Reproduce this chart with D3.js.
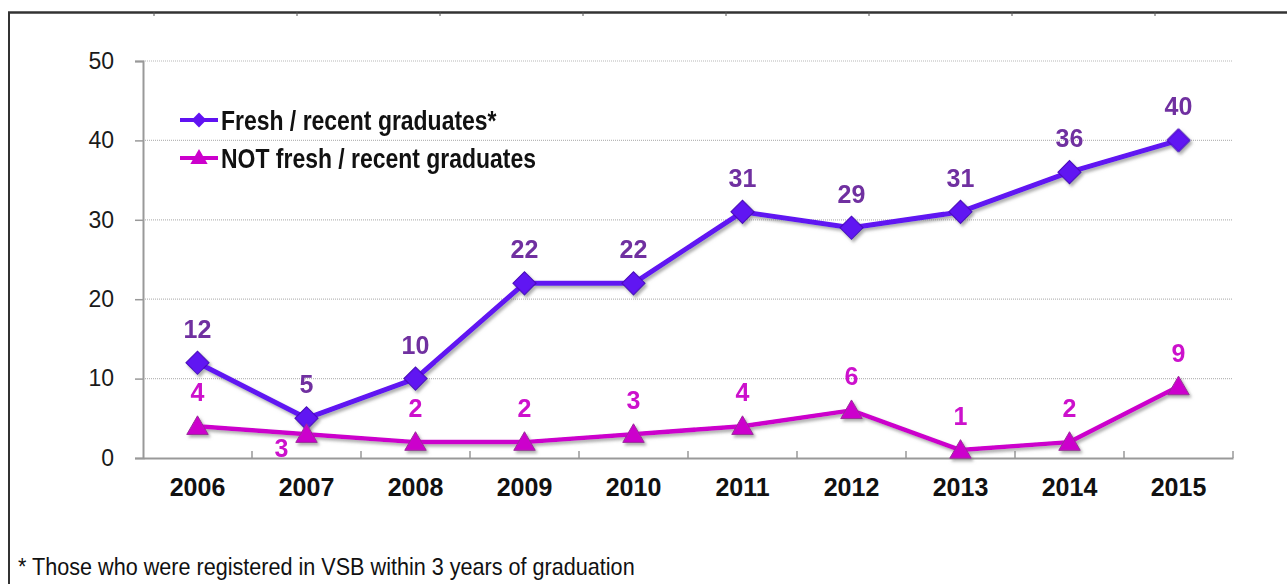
<!DOCTYPE html>
<html>
<head>
<meta charset="utf-8">
<script src="https://cdn.jsdelivr.net/npm/d3@7"></script>
<style>
  html, body { margin: 0; padding: 0; background: #fff; }
  svg { display: block; }
  text { font-family: "Liberation Sans", Arial, sans-serif; }
</style>
</head>
<body>
<div id="chart"></div>
<script>
// data
const years = ["2006", "2007", "2008", "2009", "2010", "2011", "2012", "2013", "2014", "2015"];
const freshGrads = [12, 5, 10, 22, 22, 31, 29, 31, 36, 40];
const notFreshGrads = [4, 3, 2, 2, 3, 4, 6, 1, 2, 9];
const yTicks = [0, 10, 20, 30, 40, 50];
const seriesNames = ["Fresh / recent graduates*", "NOT fresh / recent graduates"];
const footnote = "* Those who were registered in VSB within 3 years of graduation";

const W = 1287, H = 584;
const svg = d3.select("#chart").append("svg")
    .attr("width", W)
    .attr("height", H);

// soft shadow under the lines, like the original
const defs = svg.append("defs");
defs.append("filter").attr("id", "shadow")
    .attr("x", "-10%").attr("y", "-10%").attr("width", "120%").attr("height", "130%")
    .append("feDropShadow")
    .attr("dx", 2).attr("dy", 2.5).attr("stdDeviation", 1.6)
    .attr("flood-color", "#777").attr("flood-opacity", 0.6);

// frame (top rule + left rule of the slide box)
svg.append("line").attr("x1", 8).attr("x2", W).attr("y1", 12.5).attr("y2", 12.5)
    .attr("stroke", "#333").attr("stroke-width", 2.5);
svg.append("line").attr("x1", 9).attr("x2", 9).attr("y1", 12).attr("y2", H)
    .attr("stroke", "#333").attr("stroke-width", 2);
svg.selectAll(".cellTick")
    .data(d3.range(154, W - 100, 143))
    .enter().append("line")
    .attr("x1", d => d).attr("x2", d => d)
    .attr("y1", 12).attr("y2", 16)
    .attr("stroke", "#555").attr("stroke-width", 1);

const x = d3.scaleBand()
    .domain(years)
    .range([143, 1233]);

const y = d3.scaleLinear()
    .domain([0, 50])
    .range([458, 61]);

const cx = d => x(d) + x.bandwidth() / 2;

// grid lines
svg.append("g")
    .selectAll("line")
    .data(yTicks.filter(d => d > 0))
    .enter().append("line")
    .attr("x1", 143).attr("x2", 1233)
    .attr("y1", d => y(d)).attr("y2", d => y(d))
    .attr("stroke", "#b8b8b8")
    .attr("stroke-width", 1.2)
    .attr("stroke-dasharray", "1,1");

// y axis
const yAxis = svg.append("g")
    .attr("transform", "translate(143,0)")
    .call(d3.axisLeft(y).tickValues(yTicks).tickSize(8).tickPadding(21));
yAxis.select(".domain").attr("stroke", "#999").attr("stroke-width", 2);
yAxis.selectAll(".tick line").attr("stroke", "#999").attr("stroke-width", 1.5);
yAxis.selectAll("text")
    .attr("fill", "#1a1a1a")
    .style("font-family", "'Liberation Sans', Arial, sans-serif")
    .style("font-size", "23px");

// x axis, ticks between categories pointing up
const xAxis = svg.append("g")
    .attr("transform", "translate(0,458)")
    .call(d3.axisBottom(x).tickSize(0).tickPadding(20));
xAxis.select(".domain").attr("stroke", "#999").attr("stroke-width", 2);
xAxis.selectAll("text")
    .attr("fill", "#111")
    .style("font-family", "'Liberation Sans', Arial, sans-serif")
    .style("font-weight", "bold")
    .style("font-size", "25px");
svg.append("g")
    .selectAll("line")
    .data(years.slice(1).concat(["end"]))
    .enter().append("line")
    .attr("x1", d => d === "end" ? x.range()[1] : x(d))
    .attr("x2", d => d === "end" ? x.range()[1] : x(d))
    .attr("y1", 458).attr("y2", 451)
    .attr("stroke", "#999").attr("stroke-width", 1.5);

const series = [
    { name: seriesNames[0], values: freshGrads, line: "#6012F2", fill: "#6012F2", stroke: "#4a10b8", label: "#7030A0",
      symbol: d3.symbol().type(d3.symbolSquare).size(270), rotate: 45 },
    { name: seriesNames[1], values: notFreshGrads, line: "#CC00CC", fill: "#CC00CC", stroke: "#9a2c9a", label: "#CC11CC",
      symbol: d3.symbol().type(d3.symbolTriangle).size(200), rotate: 0 }
];

const line = d3.line()
    .x(d => cx(d.year))
    .y(d => y(d.value));

series.forEach(function(s, si) {
    const pts = years.map((yr, i) => ({ year: yr, value: s.values[i], i: i }));
    const g = svg.append("g").attr("filter", "url(#shadow)");

    g.append("path")
        .datum(pts)
        .attr("fill", "none")
        .attr("stroke", s.line)
        .attr("stroke-width", si === 0 ? 5 : 4.5)
        .attr("stroke-linejoin", "round")
        .attr("d", line);

    g.selectAll(".pt")
        .data(pts)
        .enter().append("path")
        .attr("d", s.symbol)
        .attr("transform", d => `translate(${cx(d.year)},${y(d.value) + (si === 1 ? 2 : 0)}) rotate(${s.rotate})`)
        .attr("fill", s.fill)
        .attr("stroke", s.stroke)
        .attr("stroke-width", 1);

    svg.selectAll(".lbl" + si)
        .data(pts)
        .enter().append("text")
        .attr("x", d => (si === 1 && d.year === "2007") ? cx(d.year) - 25 : cx(d.year))
        .attr("y", d => (si === 1 && d.year === "2007") ? y(d.value) + 23 : y(d.value) - 25)
        .attr("text-anchor", "middle")
        .attr("fill", s.label)
        .style("font-weight", "bold")
        .style("font-size", "25px")
        .text(d => d.value);
});

// legend (condensed bold text, squeezed horizontally)
const legend = svg.append("g");
series.forEach(function(s, si) {
    const ly = 120 + si * 38;
    legend.append("line")
        .attr("x1", 180).attr("x2", 218)
        .attr("y1", ly).attr("y2", ly)
        .attr("stroke", s.line).attr("stroke-width", 4);
    legend.append("path")
        .attr("d", si === 0 ? d3.symbol().type(d3.symbolSquare).size(110)() : d3.symbol().type(d3.symbolTriangle).size(130)())
        .attr("transform", `translate(199,${ly + (si === 1 ? 1 : 0)}) rotate(${s.rotate})`)
        .attr("fill", s.fill);
    legend.append("text")
        .attr("transform", `translate(221,${ly + 10}) scale(0.82,1)`)
        .attr("fill", "#111")
        .style("font-weight", "bold")
        .style("font-size", "28px")
        .text(s.name);
});

// footnote
svg.append("text")
    .attr("transform", "translate(18,575) scale(0.9,1)")
    .attr("fill", "#111")
    .style("font-size", "24px")
    .text(footnote);
</script>
</body>
</html>
